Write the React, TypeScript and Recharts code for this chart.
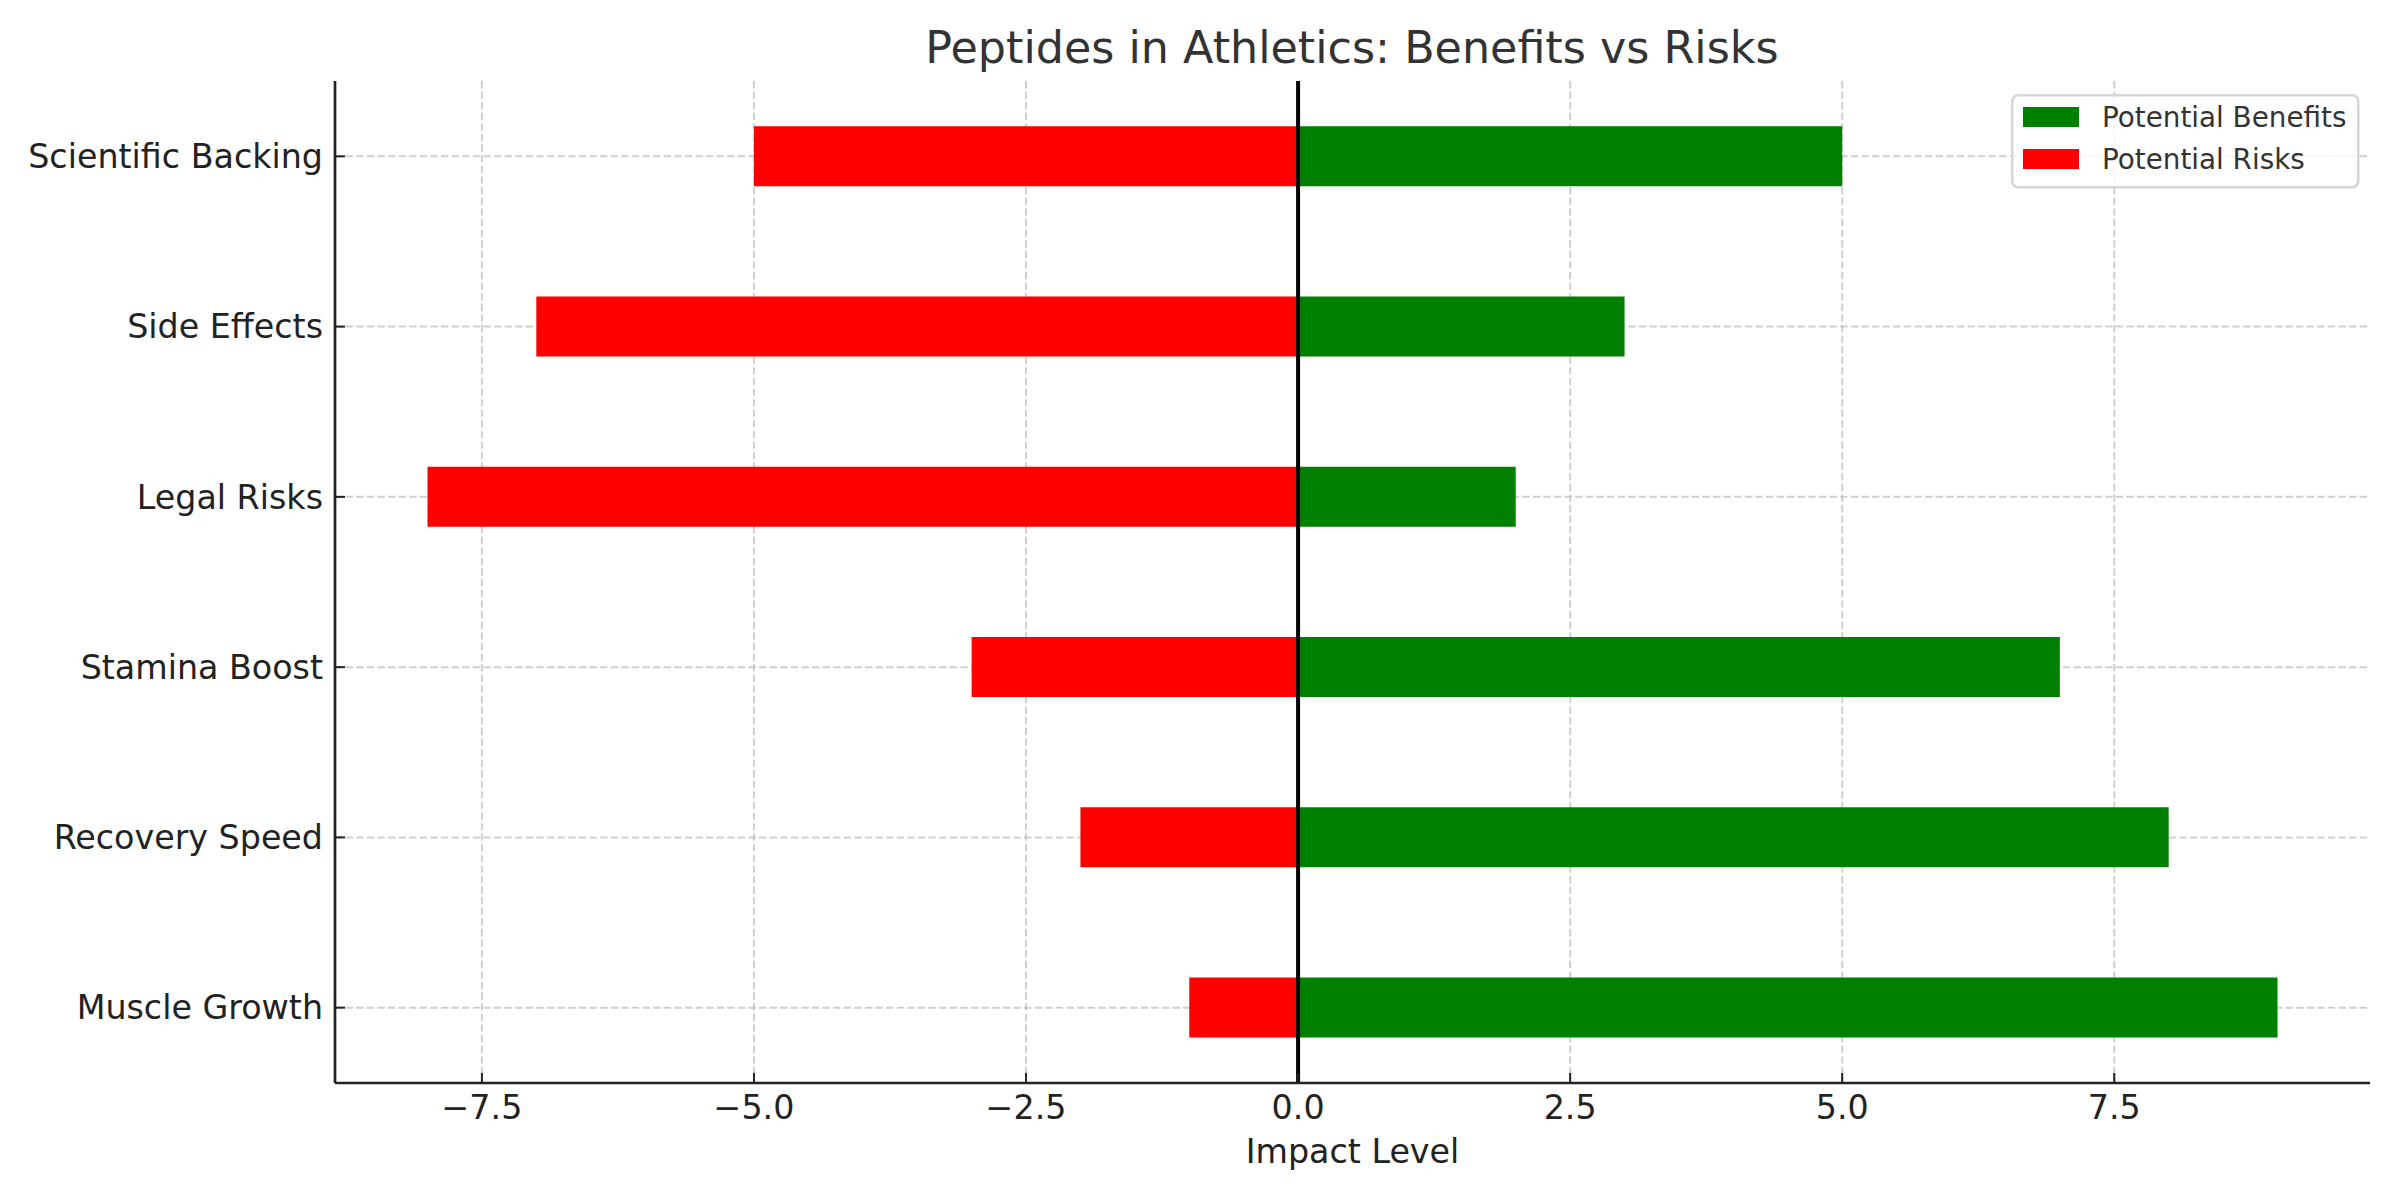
import React from "react";
import { Bar, BarChart, CartesianGrid, Legend, ReferenceLine, XAxis, YAxis } from "recharts";

const categories = ["Muscle Growth", "Recovery Speed", "Stamina Boost", "Legal Risks", "Side Effects", "Scientific Backing"];
const benefits = [9, 8, 7, 2, 3, 5];
const risks = [-1, -2, -3, -8, -7, -5];
const xTicks = [-7.5, -5, -2.5, 0, 2.5, 5, 7.5];
const yTicks = [0, 1, 2, 3, 4, 5];

const data = categories.map((name, i) => ({ pos: i, name, benefits: benefits[i], risks: risks[i] }));

const FONT = "DejaVu Sans";
const fmtX = (v: number) => (v < 0 ? "\u2212" : "") + Math.abs(v).toFixed(1);

function LegendBox({ payload }: any) {
  const items = payload || [];
  return (
    <svg width={350} height={96}>
      <rect x={1.25} y={1.25} width={346} height={92} rx={6} fill="#fff" fillOpacity={0.8} stroke="#d6d6d6" strokeWidth={2.5} />
      {items.map((p: any, i: number) => (
        <g key={i}>
          <rect x={12} y={13 + i * 42} width={56} height={20} fill={p.color} />
          <text x={91} y={33 + i * 42} fontSize={27.8} fontFamily={FONT} fill="#333">{p.value}</text>
        </g>
      ))}
    </svg>
  );
}

export default function App() {
  return (
    <div style={{ position: "absolute", left: 0, top: 0, width: 2400, height: 1200, background: "#fff", fontFamily: FONT }}>
      <BarChart width={2400} height={1200} data={data} layout="vertical" stackOffset="sign"
        margin={{ top: 81, right: 30, bottom: 17, left: 15 }}>
        <XAxis type="number" domain={[-8.85, 9.85]} ticks={xTicks} interval={0} tickFormatter={fmtX}
          allowDataOverflow height={100} tickSize={-10} tickMargin={22}
          axisLine={{ stroke: "#222", strokeWidth: 2.7 }} tickLine={{ stroke: "#222", strokeWidth: 2 }}
          tick={{ fontSize: 33.3, fill: "#222", fontFamily: FONT }}
          label={{ value: "Impact Level", position: "insideBottom", offset: 20, fontSize: 33.3, fill: "#222", fontFamily: FONT }} />
        <YAxis type="number" dataKey="pos" domain={[-0.4425, 5.4425]} ticks={yTicks} interval={0} reversed
          allowDataOverflow width={320} tickSize={-10} tickMargin={22}
          tickFormatter={(v: number) => categories[v] ?? ""}
          axisLine={{ stroke: "#222", strokeWidth: 2.7 }} tickLine={{ stroke: "#222", strokeWidth: 2 }}
          tick={{ fontSize: 33.3, fill: "#222", fontFamily: FONT }} />
        <Bar dataKey="benefits" name="Potential Benefits" stackId="s" fill="#008000" barSize={60} isAnimationActive={false} />
        <Bar dataKey="risks" name="Potential Risks" stackId="s" fill="#ff0000" barSize={60} isAnimationActive={false} />
        <CartesianGrid syncWithTicks stroke="#b0b0b0" strokeOpacity={0.6} strokeDasharray="7.4 3.2" strokeWidth={2} />
        <ReferenceLine x={0} stroke="#000" strokeWidth={4} />
        <Legend layout="vertical" align="center" verticalAlign="middle" content={<LegendBox />}
          wrapperStyle={{ position: "absolute", left: 2011, top: 94, width: 350, height: 96 }} />
      </BarChart>
      <svg width={2400} height={100} style={{ position: "absolute", left: 0, top: 0, pointerEvents: "none" }}>
        <text x={1352} y={63} textAnchor="middle" fontSize={44.4} fontFamily={FONT} fill="#333">
          Peptides in Athletics: Benefits vs Risks
        </text>
      </svg>
    </div>
  );
}
